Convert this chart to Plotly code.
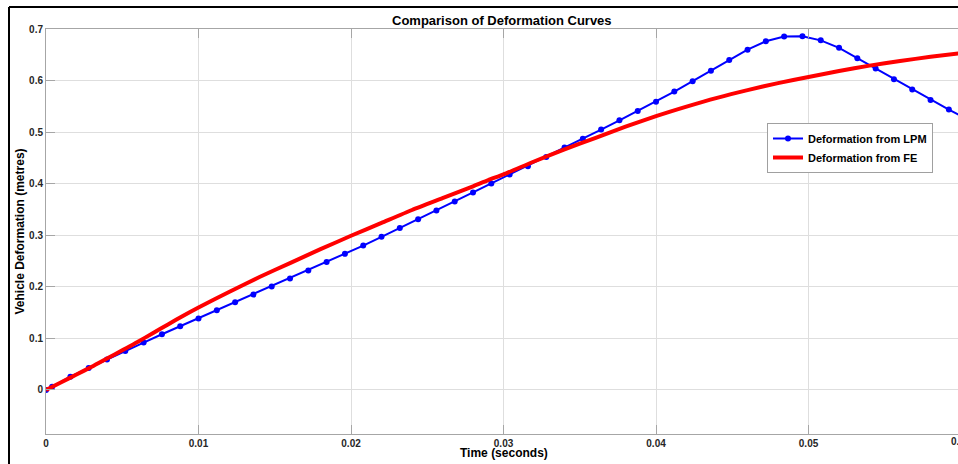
import plotly.graph_objects as go

# LPM (lumped parameter model) samples
lpm_t = [0.0, 0.0004, 0.0016, 0.0028, 0.0040, 0.0052, 0.0064, 0.0076, 0.0088, 0.0100,
         0.0112, 0.0124, 0.0136, 0.0148, 0.0160, 0.0172, 0.0184, 0.0196, 0.0208, 0.0220,
         0.0232, 0.0244, 0.0256, 0.0268, 0.0280, 0.0292, 0.0304, 0.0316, 0.0328, 0.0340,
         0.0352, 0.0364, 0.0376, 0.0388, 0.0400, 0.0412, 0.0424, 0.0436, 0.0448, 0.0460,
         0.0472, 0.0484, 0.0496, 0.0508, 0.0520, 0.0532, 0.0544, 0.0556, 0.0568, 0.0580,
         0.0592, 0.0604]
lpm_d = [0.0, 0.006, 0.0258, 0.0427, 0.0589, 0.0757, 0.0919, 0.108, 0.1236, 0.1385,
         0.1547, 0.170, 0.185, 0.2006, 0.2162, 0.2317, 0.248, 0.264, 0.280, 0.297,
         0.314, 0.331, 0.348, 0.3657, 0.383, 0.4006, 0.418, 0.434, 0.4518, 0.470,
         0.4874, 0.5049, 0.523, 0.541, 0.559, 0.5786, 0.5987, 0.6188, 0.640, 0.660,
         0.6763, 0.6854, 0.686, 0.678, 0.6634, 0.6434, 0.6233, 0.6026, 0.5825, 0.5625,
         0.5437, 0.525]

# FE (finite element) curve
fe_t = [0.0, 0.001, 0.002, 0.003, 0.004, 0.005, 0.006, 0.007, 0.008, 0.009, 0.010,
        0.012, 0.014, 0.016, 0.018, 0.020, 0.022, 0.024, 0.026, 0.028, 0.029, 0.030,
        0.032, 0.034, 0.036, 0.038, 0.040, 0.042, 0.044, 0.046, 0.048, 0.050, 0.052,
        0.054, 0.056, 0.058, 0.060]
fe_d = [0.0, 0.015, 0.030, 0.045, 0.061, 0.077, 0.093, 0.110, 0.127, 0.144, 0.160,
        0.190, 0.219, 0.246, 0.273, 0.299, 0.324, 0.349, 0.372, 0.395, 0.407, 0.418,
        0.443, 0.4665, 0.4885, 0.5105, 0.531, 0.5495, 0.5665, 0.5815, 0.595, 0.607, 0.6185,
        0.629, 0.638, 0.646, 0.653]

x_ticks = [0, 0.01, 0.02, 0.03, 0.04, 0.05]
x_tick_text = ["0", "0.01", "0.02", "0.03", "0.04", "0.05"]
y_ticks = [0, 0.1, 0.2, 0.3, 0.4, 0.5, 0.6, 0.7]
y_tick_text = ["0", "0.1", "0.2", "0.3", "0.4", "0.5", "0.6", "0.7"]

FONT = "Liberation Sans, Arial, sans-serif"
TXT = "#262626"
GRID = "#dedede"
AX = "#a6a6a6"

fig = go.Figure()
fig.add_trace(go.Scatter(
    x=lpm_t, y=lpm_d, mode="lines+markers", name="Deformation from LPM",
    line=dict(color="#0000ff", width=2),
    marker=dict(color="#0000ff", size=6, symbol="circle"),
))
fig.add_trace(go.Scatter(
    x=fe_t, y=fe_d, mode="lines", name="Deformation from FE",
    line=dict(color="#ff0000", width=4, shape="spline", smoothing=0.6),
))

fig.update_layout(
    width=958, height=464,
    margin=dict(l=46, r=0, t=29, b=30),
    paper_bgcolor="white", plot_bgcolor="white",
    font=dict(family=FONT, color=TXT, size=10),
    showlegend=True,
    legend=dict(
        x=(767 - 46) / 912, y=(434 - 123) / 405, xanchor="left", yanchor="top",
        bgcolor="white", bordercolor="#a0a0a0", borderwidth=1,
        font=dict(family=FONT, size=11, color="black", weight="bold"),
        tracegroupgap=0, itemwidth=30,
    ),
    xaxis=dict(
        range=[0, 0.0598], tickvals=x_ticks, ticktext=x_tick_text,
        showgrid=True, gridcolor=GRID, gridwidth=1, zeroline=False,
        showline=True, linecolor=AX, linewidth=1, mirror="ticks",
        ticks="inside", ticklen=9, tickcolor=AX,
        tickfont=dict(family=FONT, size=10, color=TXT, weight="bold"),
    ),
    yaxis=dict(
        range=[-0.0854, 0.7], tickvals=y_ticks, ticktext=y_tick_text,
        showgrid=True, gridcolor=GRID, gridwidth=1, zeroline=False,
        showline=True, linecolor=AX, linewidth=1,
        ticks="inside", ticklen=9, tickcolor=AX,
        tickfont=dict(family=FONT, size=10, color=TXT, weight="bold"),
    ),
    annotations=[
        dict(text="Comparison of Deformation Curves", xref="paper", yref="paper",
             x=0.5, y=(434 - 20) / 405, xanchor="center", yanchor="middle", showarrow=False,
             font=dict(family=FONT, size=13, color="black", weight="bold")),
        dict(text="Time (seconds)", xref="paper", yref="paper",
             x=(504 - 46) / 912, y=(434 - 453) / 405, xanchor="center", yanchor="middle",
             showarrow=False, font=dict(family=FONT, size=12, color="black", weight="bold")),
        dict(text="Vehicle Deformation (metres)", xref="paper", yref="paper",
             x=(19 - 46) / 912, y=0.5, xanchor="center", yanchor="middle", textangle=-90,
             showarrow=False, font=dict(family=FONT, size=12, color="black", weight="bold")),
        dict(text="0.06", xref="paper", yref="paper",
             x=(961 - 46) / 912, y=(434 - 441) / 405, xanchor="center", yanchor="middle",
             showarrow=False, font=dict(family=FONT, size=10, color=TXT, weight="bold")),
    ],
    shapes=[
        dict(type="line", xref="paper", yref="paper", x0=(9 - 46) / 912, x1=1.02,
             y0=(434 - 7) / 405, y1=(434 - 7) / 405, line=dict(color="black", width=2)),
        dict(type="line", xref="paper", yref="paper", x0=(9 - 46) / 912, x1=(9 - 46) / 912,
             y0=(434 - 7) / 405, y1=-0.1, line=dict(color="black", width=2)),
    ],
)

fig.write_html(
    "out.html",
    config={"displayModeBar": False},
    post_script="document.body.style.margin='0';document.body.style.overflow='hidden';",
)
